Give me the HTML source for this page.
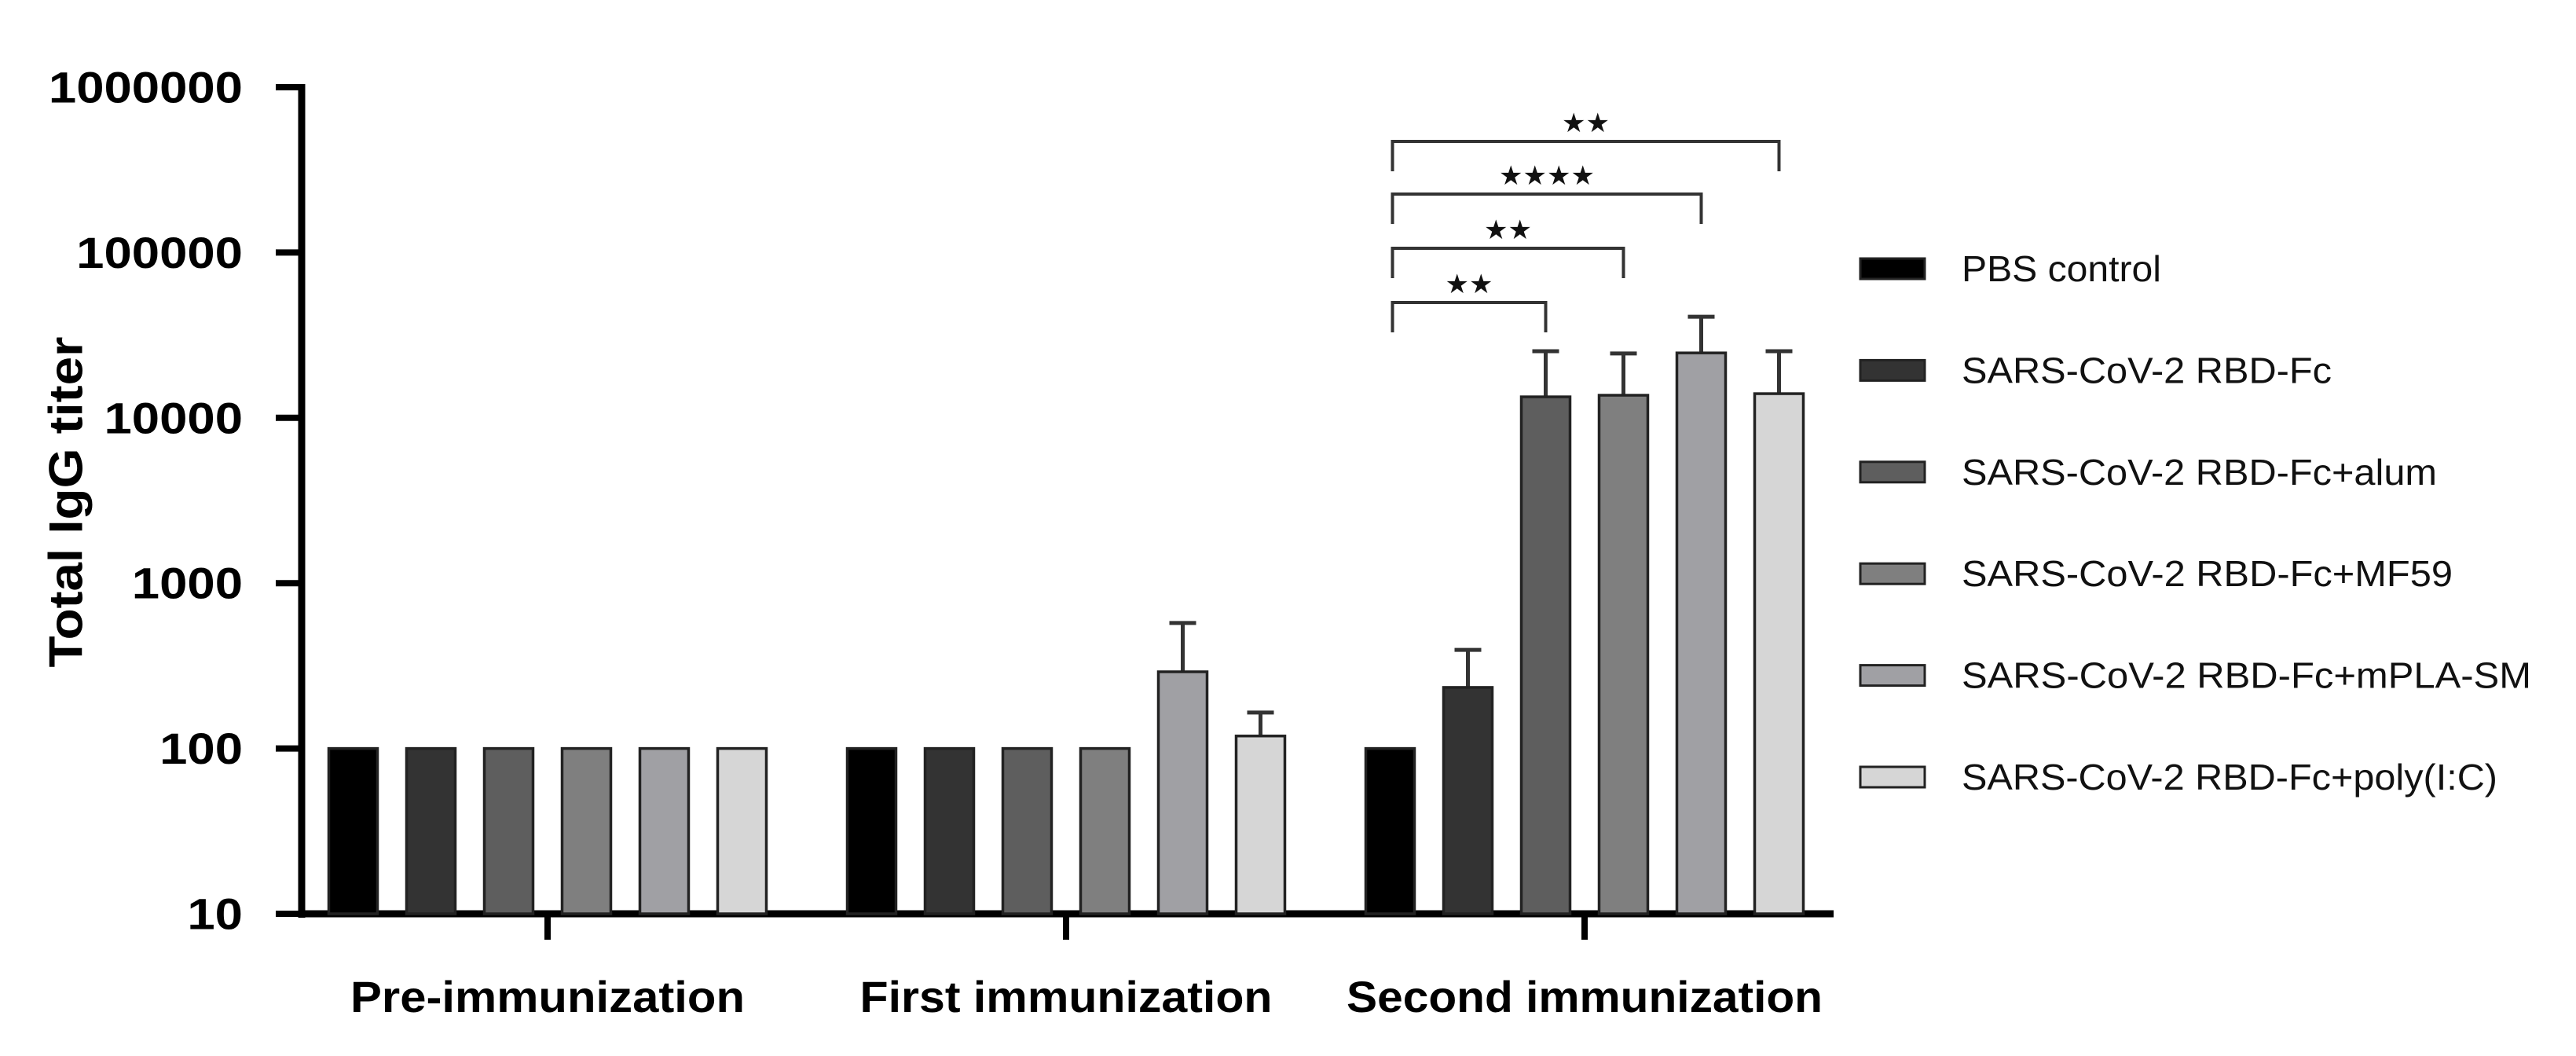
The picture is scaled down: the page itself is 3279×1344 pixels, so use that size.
<!DOCTYPE html>
<html><head><meta charset="utf-8"><style>
html,body{margin:0;padding:0;background:#fff;}
svg{display:block;font-family:"Liberation Sans",Arial,sans-serif;}
</style></head><body>
<svg id="chart" width="3279" height="1344" viewBox="0 0 3279 1344">
<g id="axes"></g>
<g id="bars"></g>
<g id="sig"></g>
<g id="legend"></g>
<text x="84" y="639" transform="rotate(-90 84 639)" text-anchor="middle" dominant-baseline="central" font-weight="bold" font-size="60" textLength="421" lengthAdjust="spacingAndGlyphs">Total IgG titer</text>
</svg>
<script>
const groups = ["Pre-immunization","First immunization","Second immunization"];
const seriesNames = ["PBS control","SARS-CoV-2 RBD-Fc","SARS-CoV-2 RBD-Fc+alum","SARS-CoV-2 RBD-Fc+MF59","SARS-CoV-2 RBD-Fc+mPLA-SM","SARS-CoV-2 RBD-Fc+poly(I:C)"];
const preValues = [100,100,100,100,100,100];
const firstValues = [100,100,100,100,291,119];
const secondValues = [100,234,13400,13700,24700,14000];
const preErrors = [null,null,null,null,null,null];
const firstErrors = [null,null,null,null,574,165];
const secondErrors = [null,395,25300,24500,40900,25300];
const yTicks = [10,100,1000,10000,100000,1000000];
const yTickLabels = ["10","100","1000","10000","100000","1000000"];
const sigPairs = [[0,2],[0,3],[0,4],[0,5]];
const sigLabels = ["**","**","****","**"];

const NS="http://www.w3.org/2000/svg";
const colors=["#000000","#333333","#5e5e5e","#7f7f7f","#a0a0a4","#d6d6d6"];
const legendWidths=[254,471,605,625,725,682];
const groupLabelWidths=[502,525,606];
const y0=1163, dec=210.4, axX=384;
function yScale(v){return y0-(Math.log10(v)-1)*dec;}
function groupX(g){return 697+g*660;}
function barX(g,i){return groupX(g)+(i-2.5)*99;}
function mk(tag,attrs,parent){const e=document.createElementNS(NS,tag);for(const k in attrs)e.setAttribute(k,attrs[k]);parent.appendChild(e);return e;}
const axes=document.getElementById('axes'),bars=document.getElementById('bars'),sig=document.getElementById('sig'),legend=document.getElementById('legend');

let l=mk('line',{x1:axX,y1:107,x2:axX,y2:y0+5,stroke:'#000','stroke-width':9},axes);


l=mk('line',{x1:axX-4,y1:y0,x2:2334,y2:y0,stroke:'#000','stroke-width':9},axes);


yTicks.forEach((t,i)=>{
  const y=yScale(t);
  const tk=mk('line',{x1:351,y1:y,x2:axX,y2:y,stroke:'#000','stroke-width':8},axes);
  
  
  const tx=mk('text',{x:309,y:y,'text-anchor':'end','dominant-baseline':'central','font-weight':'bold','font-size':56,textLength:yTickLabels[i].length*35.3,lengthAdjust:'spacingAndGlyphs'},axes);
  tx.textContent=yTickLabels[i];
  
  
});
groups.forEach((g,gi)=>{
  const x=groupX(gi);
  const tk=mk('line',{x1:x,y1:y0,x2:x,y2:1196,stroke:'#000','stroke-width':8},axes);
  
  
  const tx=mk('text',{x:x,y:1288,'text-anchor':'middle','font-weight':'bold','font-size':56,textLength:groupLabelWidths[gi],lengthAdjust:'spacingAndGlyphs'},axes);
  tx.textContent=g;
  
  
});
const allVals=[preValues,firstValues,secondValues], allErr=[preErrors,firstErrors,secondErrors];
allVals.forEach((vals,gi)=>{
  vals.forEach((v,i)=>{
    const cx=barX(gi,i), top=yScale(v);
    const e=allErr[gi][i];
    if(e){
      const ey=yScale(e);
      const el=mk('path',{d:`M${cx} ${top} V${ey} M${cx-17} ${ey} H${cx+17}`,stroke:'#333','stroke-width':5,fill:'none'},bars);
      
      
    }
    const r=mk('rect',{x:cx-31,y:top,width:62,height:y0-top,fill:colors[i],stroke:'#222','stroke-width':3.5},bars);
    
    
  });
});
const brY=[385,316,247,180];
sigPairs.forEach((p,k)=>{
  const x1=barX(2,p[0])+3,x2=barX(2,p[1]), y=brY[k];
  const b=mk('path',{d:`M${x1} ${y+38} V${y} H${x2} V${y+38}`,stroke:'#333','stroke-width':4,fill:'none'},sig);
  
  
  const t=mk('text',{x:(x1+x2)/2,y:y-12,'text-anchor':'middle','font-size':34,fill:'#111'},sig);
  t.textContent=sigLabels[k].replace(/\*/g,'★');
  
  
});
seriesNames.forEach((n,i)=>{
  const cy=342+i*129.4;
  const s=mk('rect',{x:2368,y:cy-13,width:82,height:26,fill:colors[i],stroke:'#222','stroke-width':3},legend);
  
  
  const t=mk('text',{x:2497,y:cy,'dominant-baseline':'central','font-size':46,fill:'#111',textLength:legendWidths[i],lengthAdjust:'spacingAndGlyphs'},legend);
  t.textContent=n;
  
  
});
</script>
</body></html>
